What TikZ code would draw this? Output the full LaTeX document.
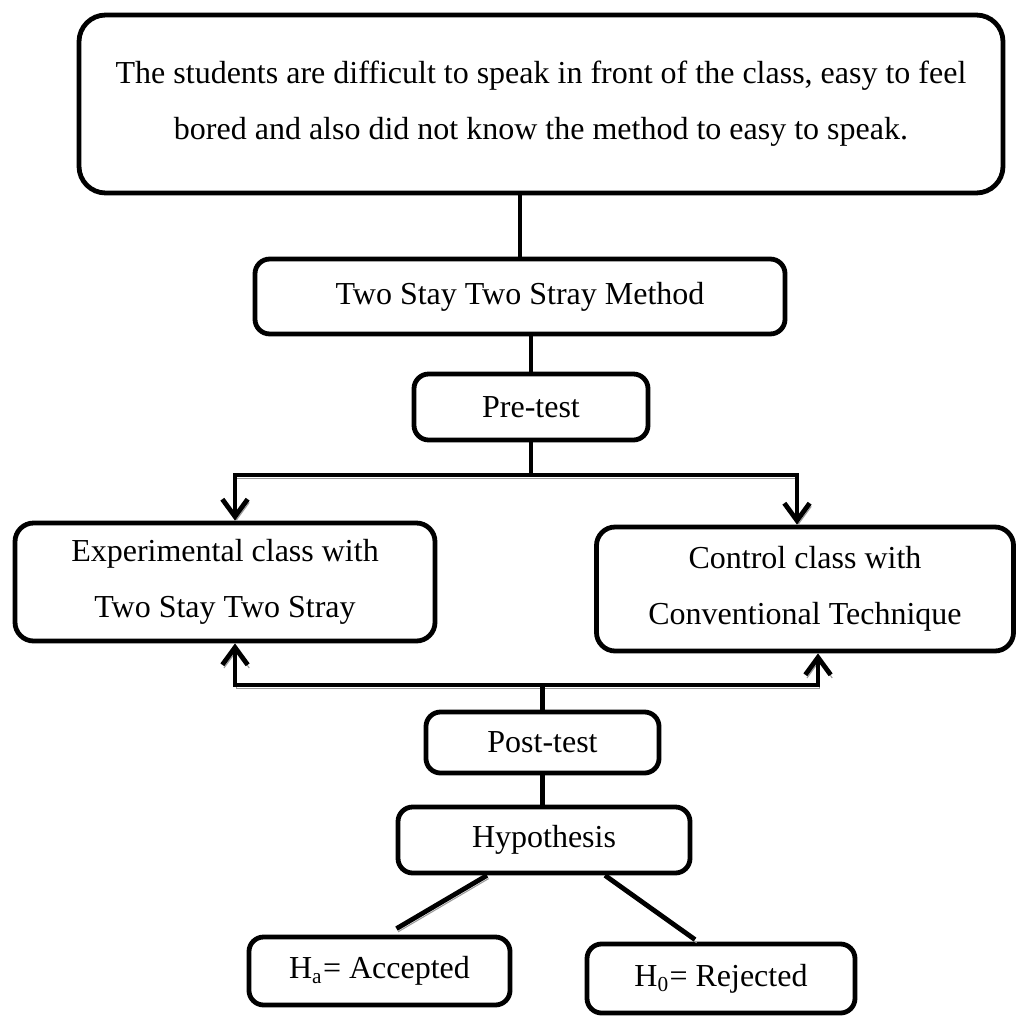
\documentclass[tikz,border=0pt]{standalone}
\usepackage{fontspec}
\setmainfont{Liberation Serif}
\usepackage{tikz}
\usetikzlibrary{arrows.meta,calc}
\newcommand{\txt}{\fontsize{12}{21}\selectfont}

\begin{document}
\begin{tikzpicture}[
  x=0.375pt, y=-0.375pt,
  font=\txt,
  every node/.style={align=center},
  >={Straight Barb[length=6.5pt,width=9.5pt]},
  box/.style={rounded corners=5.5pt, draw=black, line width=1.8pt, fill=white, inner sep=0pt},
  bigbox/.style={box, rounded corners=10pt},
  cls/.style={box, rounded corners=7pt},
  ln/.style={line width=1.8pt, draw=black},
  shd/.style={preaction={draw=black!40, transform canvas={xshift=0.6pt, yshift=-1.2pt}}},
  arr/.style={ln, shd, <->},
]
\useasboundingbox (0,0) rectangle (1016,1017);
\node[bigbox, minimum width=346.5pt, minimum height=66.75pt] (top) at (541,104)
  {The students are difficult to speak in front of the class, easy to feel\\bored and also did not know the method to easy to speak.};
\node[box, minimum width=198.75pt, minimum height=28.1pt] (meth) at (520,296.5) {Two Stay Two Stray Method};
\node[box, minimum width=87.75pt, minimum height=24.75pt] (pre) at (531,407) {Pre-test};
\node[cls, minimum width=157.5pt, minimum height=44.25pt] (exp) at (225,582) {Experimental class with\\Two Stay Two Stray};
\node[cls, minimum width=156.4pt, minimum height=46.5pt] (ctrl) at (805,589) {Control class with\\Conventional Technique};
\node[box, minimum width=87.4pt, minimum height=22.9pt] (post) at (542.5,742.5) {Post-test};
\node[box, minimum width=109.5pt, minimum height=24.75pt] (hyp) at (544,840) {Hypothesis};
\node[box, minimum width=97.9pt, minimum height=25.5pt] (ha) at (379.5,971) {H\textsubscript{a}= Accepted};
\node[box, minimum width=100.5pt, minimum height=25.9pt] (hz) at (721,978.5) {H\textsubscript{0}= Rejected};
% split points
\coordinate (dl) at (235,475);
\coordinate (dr) at (797,475);
\coordinate (ul) at (235,685);
\coordinate (ur) at (818,685);
\draw[ln] (top.south -| meth.north) -- (meth.north);
\draw[ln] (meth.south -| pre.north) -- (pre.north);
\draw[ln] (pre.south) -- (pre.south |- dl);
\draw[arr] (dl |- exp.north) -- (dl) -- (dr) -- (dr |- ctrl.north);
\draw[arr] (ul |- exp.south) -- (ul) -- (ur) -- (ur |- ctrl.south);
\draw[ln] (post.north) -- (post.north |- ul);
\draw[ln] (post.south) -- (post.south |- hyp.north);
\draw[ln, shd] ($(hyp.south)+(-57,0)$) -- ($(ha.north)+(17,-6)$);
\draw[ln, shd] ($(hyp.south)+(61,0)$) -- ($(hz.north)+(-26,-2)$);
\end{tikzpicture}
\end{document}
